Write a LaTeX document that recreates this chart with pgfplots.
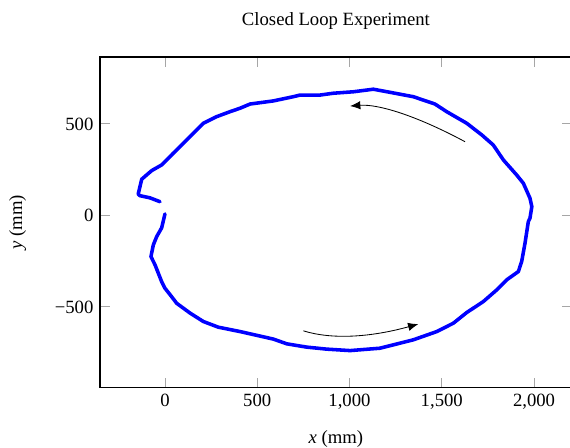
\documentclass[border=0pt]{standalone}
\usepackage{fontspec}
\setmainfont{Liberation Serif}
\usepackage{pgfplots}
\pgfplotsset{compat=1.18}
\usetikzlibrary{arrows.meta}

\pgfplotstableread{
x y
0 8
-18 -68
-45 -116
-63 -161
-76 -225
-54 -270
-18 -362
0 -398
36 -444
63 -480
136 -534
208 -580
289 -611
407 -635
587 -676
660 -702
768 -720
876 -731
1003 -739
1165 -726
1346 -680
1473 -635
1563 -589
1635 -531
1725 -471
1798 -407
1852 -352
1915 -307
1933 -252
1951 -152
1969 -34
1978 -15
1988 48
1978 94
1942 176
1906 221
1834 303
1779 385
1717 440
1635 504
1527 567
1463 609
1346 649
1220 673
1129 690
1021 676
912 668
840 658
732 658
695 649
587 626
461 609
407 586
352 567
280 540
208 504
136 431
45 340
-18 276
-72 245
-126 198
-145 117
-136 108
-81 96
-27 75
}\loopdata

\begin{document}
\begin{tikzpicture}
\begin{axis}[
  at={(0pt,0pt)}, anchor=south west,
  scale only axis,
  width=252.4pt, height=177.0pt,
  xmin=-352, xmax=2205, ymin=-943, ymax=866,
  xtick={0,500,1000,1500,2000},
  xticklabels={\mbox{0},\mbox{500},\mbox{1,000},\mbox{1,500},\mbox{2,000}},
  ytick={-500,0,500},
  yticklabels={\mbox{−500},\mbox{0},\mbox{500}},
  major tick length=5.5pt,
  tick style={gray!70, line width=0.5pt},
  axis line style={black, line width=0.6pt},
  title={Closed Loop Experiment},
  xlabel={\textit{x} (mm)},
  ylabel={\textit{y} (mm)},
  every axis title/.append style={yshift=5pt},
  every axis x label/.append style={yshift=-4pt},
  every axis y label/.append style={yshift=8.5pt},
]
\addplot[blue, line width=1.9pt, line join=round, line cap=round] table[x=x,y=y] {\loopdata};
\draw[black, line width=0.45pt, -{Latex[length=5.5pt,width=4.5pt]}]
  (axis cs:750,-631) .. controls (axis cs:903.7,-679.3) and (axis cs:1111.3,-667) .. (axis cs:1373,-594);
\draw[black, line width=0.45pt, -{Latex[length=5.5pt,width=4.5pt]}]
  (axis cs:1626,403) .. controls (axis cs:1364.3,544.7) and (axis cs:1156.7,609.7) .. (axis cs:1003,598);
\end{axis}
\pgfresetboundingbox
\useasboundingbox (-53.5pt,-32.1pt) rectangle (251.4pt,207.5pt);
\end{tikzpicture}
\end{document}
